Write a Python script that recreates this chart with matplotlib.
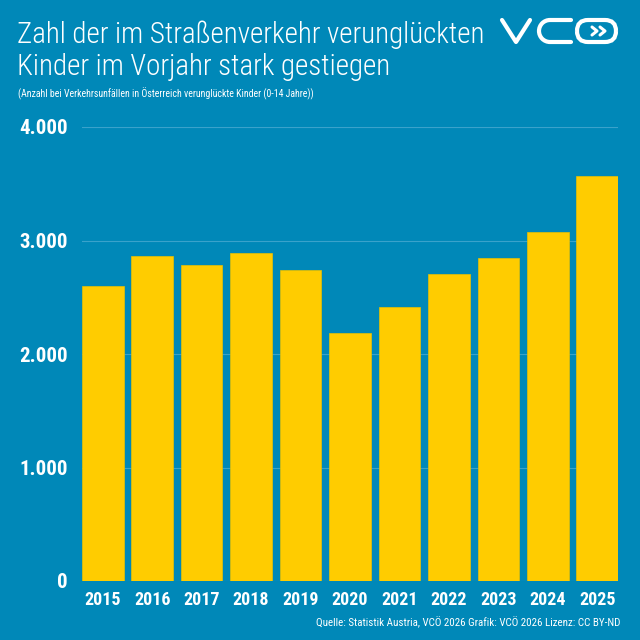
import matplotlib.pyplot as plt
from matplotlib.patches import FancyBboxPatch, Arc
from matplotlib.lines import Line2D
from matplotlib import font_manager

# Daten: verunglückte Kinder (0-14 Jahre) in Österreich
jahre = ['2015', '2016', '2017', '2018', '2019', '2020', '2021', '2022', '2023', '2024', '2025']
kinder = [2600, 2860, 2785, 2890, 2740, 2185, 2410, 2705, 2845, 3075, 3565]
yticks = [0, 1000, 2000, 3000, 4000]
ylabels = ['0', '1.000', '2.000', '3.000', '4.000']

bg = '#0088b8'
gelb = '#ffcc00'

names = {f.name for f in font_manager.fontManager.ttflist}
schrift = 'DejaVu Sans'
for kand in ['Roboto Condensed', 'Archivo Narrow', 'Fira Sans Condensed', 'PT Sans Narrow']:
    if kand in names:
        schrift = kand
        break
plt.rcParams['font.family'] = [schrift, 'DejaVu Sans']

fig = plt.figure(figsize=(6.4, 6.4), dpi=100, facecolor=bg)
ax = fig.add_axes([82/640, 1 - 581/640, 536/640, (581 - 127)/640])
ax.set_facecolor(bg)

x = range(len(jahre))
ax.bar(x, kinder, width=0.84, color=gelb, edgecolor='#e8c000', linewidth=0.5, zorder=3)
ax.set_xlim(-0.42, 10.42)
ax.set_ylim(0, 4000)
ax.set_yticks(yticks)
ax.set_yticklabels(ylabels)
ax.set_xticks(list(x))
ax.set_xticklabels(jahre)
for s in ax.spines.values():
    s.set_visible(False)
ax.grid(axis='y', color='#3aa2cb', linewidth=0.8, zorder=0)
ax.tick_params(length=0, colors='white', labelsize=13)
ax.tick_params(axis='y', pad=10, labelsize=15)
ax.tick_params(axis='x', pad=7)
for lab in ax.get_xticklabels() + ax.get_yticklabels():
    lab.set_fontweight('bold')

# Titel
fig.text(17/640, 1 - 43/640, 'Zahl der im Straßenverkehr verunglückten',
         color='white', fontsize=20.9, fontweight='light', ha='left', va='baseline')
fig.text(17/640, 1 - 75/640, 'Kinder im Vorjahr stark gestiegen',
         color='white', fontsize=20.9, fontweight='light', ha='left', va='baseline')
fig.text(18/640, 1 - 97/640,
         '(Anzahl bei Verkehrsunfällen in Österreich verunglückte Kinder (0-14 Jahre))',
         color='white', fontsize=7.1, ha='left', va='baseline')

# Quelle
fig.text(620/640, 1 - 626/640,
         'Quelle: Statistik Austria, VCÖ 2026 Grafik: VCÖ 2026 Lizenz: CC BY-ND',
         color='white', fontsize=7.9, ha='right', va='baseline')

# Logo VCÖ (vereinfacht)
lw = 3.0
weiss = dict(color='white', linewidth=lw, solid_capstyle='round', solid_joinstyle='round')
fig.add_artist(Line2D([502/640, 516/640, 530/640], [1 - 20/640, 1 - 42/640, 1 - 20/640], **weiss))
fig.add_artist(Line2D([571/640, 550/640], [1 - 20/640, 1 - 20/640], **weiss))
fig.add_artist(Line2D([571/640, 550/640], [1 - 42/640, 1 - 42/640], **weiss))
fig.add_artist(Arc((550/640, 1 - 31/640), 22/640, 22/640, theta1=90, theta2=270,
                   color='white', linewidth=lw))
fig.add_artist(FancyBboxPatch((577/640, 1 - 42/640), 39/640, 22/640,
                              boxstyle='round,pad=0,rounding_size=0.0172',
                              facecolor='none', edgecolor='white', linewidth=lw))
for dx in (0, 8):
    fig.add_artist(Line2D([(592 + dx)/640, (597 + dx)/640, (592 + dx)/640],
                          [1 - 27/640, 1 - 31/640, 1 - 35/640],
                          color='white', linewidth=2.2, solid_capstyle='round'))

fig.savefig('out.png', dpi=100, facecolor=bg)
